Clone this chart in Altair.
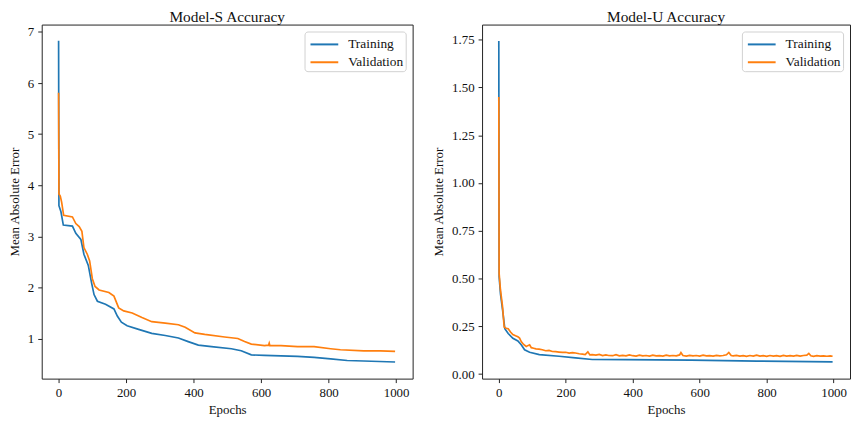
import altair as alt
import pandas as pd

# ---------------- data ----------------
series_names = ["Training", "Validation"]
series_colors = ["#1f77b4", "#ff7f0e"]

s_train_epoch = [0, 1, 7, 14, 41, 51, 66, 75, 88, 98, 105, 115, 139, 164, 174, 186, 203, 237,
                 276, 316, 355, 384, 414, 453, 512, 541, 571, 610, 708, 757, 806, 855, 904, 997]
s_train_mae = [6.83, 3.60, 3.48, 3.22, 3.20, 3.06, 2.94, 2.65, 2.43, 2.08, 1.86, 1.73, 1.67, 1.58,
               1.44, 1.32, 1.25, 1.18, 1.10, 1.06, 1.01, 0.94, 0.87, 0.84, 0.80, 0.76, 0.68, 0.67,
               0.65, 0.63, 0.60, 0.57, 0.56, 0.54]

s_val_epoch = [0, 1, 5, 9, 15, 41, 51, 61, 69, 75, 85, 92, 100, 108, 120, 149, 164, 178, 193, 218,
               247, 276, 316, 355, 375, 404, 433, 492, 531, 551, 571, 610, 622, 624, 626, 659, 708,
               757, 806, 835, 904, 953, 997]
s_val_mae = [5.81, 3.83, 3.79, 3.67, 3.41, 3.38, 3.25, 3.19, 3.10, 2.78, 2.65, 2.52, 2.17, 2.02,
             1.95, 1.90, 1.83, 1.60, 1.54, 1.50, 1.41, 1.33, 1.30, 1.27, 1.22, 1.11, 1.08, 1.03,
             1.00, 0.94, 0.89, 0.86, 0.87, 0.91, 0.86, 0.86, 0.84, 0.84, 0.80, 0.78, 0.76, 0.76, 0.75]

u_train_epoch = [0, 1, 5, 11, 18, 28, 42, 57, 67, 77, 92, 121, 180, 229, 279, 377, 574, 771, 997]
u_train_mae = [1.743, 0.509, 0.42, 0.34, 0.237, 0.212, 0.187, 0.173, 0.153, 0.127, 0.114, 0.102,
               0.093, 0.085, 0.076, 0.075, 0.073, 0.068, 0.064]

u_val_epoch = [0, 1, 5, 11, 16, 22, 28, 35, 42, 50, 57, 62, 67, 74, 82, 88, 92, 97, 104, 111, 120,
               130, 140, 150, 160, 170, 180, 190, 200, 210, 220, 229, 240, 250, 258, 266, 272, 279,
               290, 300, 310, 320, 328, 340, 350, 360, 370, 380, 390, 400, 410, 420, 430, 440, 450,
               460, 470, 480, 490, 500, 510, 520, 530, 540, 544, 550, 560, 570, 580, 590, 600, 610,
               620, 630, 640, 650, 660, 670, 680, 687, 694, 700, 710, 720, 730, 740, 750, 760, 770,
               780, 790, 800, 810, 820, 830, 840, 850, 860, 870, 880, 890, 900, 910, 920, 926, 932,
               940, 950, 960, 970, 980, 990, 997]
u_val_mae = [1.45, 0.526, 0.44, 0.356, 0.246, 0.24, 0.237, 0.22, 0.207, 0.20, 0.195, 0.188, 0.170,
             0.155, 0.144, 0.150, 0.153, 0.138, 0.135, 0.132, 0.130, 0.127, 0.122, 0.124, 0.118,
             0.117, 0.115, 0.113, 0.114, 0.110, 0.112, 0.110, 0.106, 0.104, 0.102, 0.116, 0.100,
             0.102, 0.099, 0.103, 0.097, 0.100, 0.097, 0.096, 0.101, 0.095, 0.098, 0.095, 0.100,
             0.096, 0.094, 0.099, 0.095, 0.097, 0.094, 0.099, 0.095, 0.096, 0.094, 0.099, 0.095,
             0.097, 0.095, 0.100, 0.112, 0.097, 0.094, 0.098, 0.095, 0.097, 0.094, 0.099, 0.095,
             0.096, 0.094, 0.098, 0.095, 0.097, 0.101, 0.113, 0.097, 0.095, 0.098, 0.094, 0.096,
             0.093, 0.097, 0.094, 0.099, 0.094, 0.096, 0.093, 0.097, 0.094, 0.096, 0.093, 0.098,
             0.094, 0.096, 0.094, 0.098, 0.094, 0.097, 0.099, 0.108, 0.096, 0.093, 0.096, 0.094,
             0.095, 0.093, 0.095, 0.093]

x_ticks = [0, 200, 400, 600, 800, 1000]
s_y_ticks = [1, 2, 3, 4, 5, 6, 7]
u_y_ticks = [0.0, 0.25, 0.5, 0.75, 1.0, 1.25, 1.5, 1.75]


def make_df(te, tv, ve, vv):
    a = pd.DataFrame({"epoch": te, "mae": tv, "series": "Training"})
    b = pd.DataFrame({"epoch": ve, "mae": vv, "series": "Validation"})
    return pd.concat([a, b], ignore_index=True)


FONT = "Liberation Serif"


def panel(df, title, ydom, yticks, yfmt, width):
    return alt.Chart(df).mark_line(strokeWidth=1.7, clip=True).encode(
        x=alt.X("epoch:Q",
                scale=alt.Scale(domain=[-50, 1049], nice=False, zero=False),
                axis=alt.Axis(values=x_ticks, format="d", title="Epochs")),
        y=alt.Y("mae:Q",
                scale=alt.Scale(domain=ydom, nice=False, zero=False),
                axis=alt.Axis(values=yticks, format=yfmt, title="Mean Absolute Error")),
        color=alt.Color("series:N",
                        scale=alt.Scale(domain=series_names, range=series_colors),
                        legend=alt.Legend(title=None, orient="top-right", offset=7,
                                          strokeColor="#d0d0d0", cornerRadius=3,
                                          fillColor="white", padding=2,
                                          symbolType="M-1.4,0H1.4", symbolStrokeWidth=2,
                                          symbolSize=400, symbolOffset=7,
                                          labelFont=FONT, labelFontSize=13.5,
                                          labelColor="#111", labelOffset=13,
                                          rowPadding=0)),
    ).properties(
        width=width, height=357,
        title=alt.Title(title, font=FONT, fontSize=15.5, fontWeight="normal",
                        color="#111", frame="group", anchor="middle", offset=-1),
    )


left = panel(make_df(s_train_epoch, s_train_mae, s_val_epoch, s_val_mae),
             "Model-S Accuracy", [0.215, 7.145], s_y_ticks, "d", 374)
right = panel(make_df(u_train_epoch, u_train_mae, u_val_epoch, u_val_mae),
              "Model-U Accuracy", [-0.024, 1.829], u_y_ticks, ".2f", 371)

chart = alt.hconcat(left, right, spacing=18).resolve_scale(
    color="independent"
).resolve_legend(color="independent").properties(
    padding={"left": 0, "top": 0, "right": 0, "bottom": 0}
).configure_view(
    stroke="#222", strokeWidth=1
).configure_axis(
    domain=False, grid=False, tickColor="#222", tickSize=4, tickWidth=1,
    labelFont=FONT, labelFontSize=13, labelColor="#111",
    titleFont=FONT, titleFontSize=13, titleFontWeight="normal", titleColor="#111",
).configure_axisY(titlePadding=6, labelPadding=4).configure_axisX(titlePadding=4, labelPadding=4)

chart.save("out.html", embed_options={"renderer": "svg", "actions": False})
